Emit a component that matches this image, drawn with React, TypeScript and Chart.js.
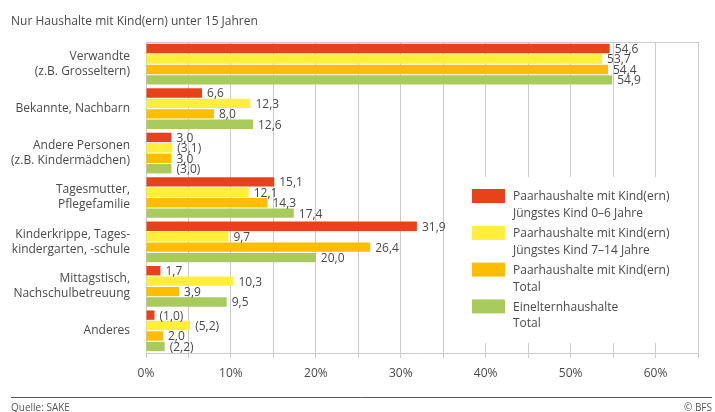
import React, { useEffect, useRef } from 'react';
import { Chart, registerables } from 'chart.js';

Chart.register(...registerables);

const categories: string[][] = [
  ['Verwandte', '(z.B. Grosseltern)'],
  ['Bekannte, Nachbarn'],
  ['Andere Personen', '(z.B. Kindermädchen)'],
  ['Tagesmutter,', 'Pflegefamilie'],
  ['Kinderkrippe, Tages-', 'kindergarten, -schule'],
  ['Mittagstisch,', 'Nachschulbetreuung'],
  ['Anderes'],
];

const seriesNames: string[][] = [
  ['Paarhaushalte mit Kind(ern)', 'Jüngstes Kind 0–6 Jahre'],
  ['Paarhaushalte mit Kind(ern)', 'Jüngstes Kind 7–14 Jahre'],
  ['Paarhaushalte mit Kind(ern)', 'Total'],
  ['Einelternhaushalte', 'Total'],
];

const paar0bis6 = [54.6, 6.6, 3.0, 15.1, 31.9, 1.7, 1.0];
const paar7bis14 = [53.7, 12.3, 3.1, 12.1, 9.7, 10.3, 5.2];
const paarTotal = [54.4, 8.0, 3.0, 14.3, 26.4, 3.9, 2.0];
const einElternTotal = [54.9, 12.6, 3.0, 17.4, 20.0, 9.5, 2.2];

// values shown in parentheses (low reliability)
const paar0bis6Unsicher = [false, false, false, false, false, false, true];
const paar7bis14Unsicher = [false, false, true, false, false, false, true];
const paarTotalUnsicher = [false, false, false, false, false, false, false];
const einElternUnsicher = [false, false, true, false, false, false, true];

const xTickLabels = [0, 10, 20, 30, 40, 50, 60];

const colors = ['#E8421B', '#FFEE3A', '#FDBD00', '#A9CB5D'];
const FONT = '"Open Sans", "Noto Sans", sans-serif';
const TEXT = '#4a4a4a';
const GRID = '#cccccc';

export default function App() {
  const ref = useRef<HTMLCanvasElement | null>(null);

  useEffect(() => {
    document.body.style.margin = '0';
    const canvas = ref.current;
    if (!canvas) return;

    const values = [paar0bis6, paar7bis14, paarTotal, einElternTotal];
    const unsure = [paar0bis6Unsicher, paar7bis14Unsicher, paarTotalUnsicher, einElternUnsicher];

    const labelPlugin = {
      id: 'valueLabels',
      afterDatasetsDraw(chart: any) {
        const ctx = chart.ctx;
        ctx.save();
        ctx.font = `12px ${FONT}`;
        ctx.fillStyle = TEXT;
        ctx.textBaseline = 'middle';
        ctx.textAlign = 'left';
        for (let d = chart.data.datasets.length - 1; d >= 0; d--) {
          const meta = chart.getDatasetMeta(d);
          meta.data.forEach((el: any, i: number) => {
            const v = values[d][i];
            let s = v.toFixed(1).replace('.', ',');
            if (unsure[d][i]) s = '(' + s + ')';
            ctx.fillText(s, el.x + 5, el.y + 1);
          });
        }
        ctx.restore();
      },
    };

    const decoPlugin = {
      id: 'deco',
      beforeDraw(chart: any) {
        const ctx = chart.ctx;
        ctx.save();
        ctx.fillStyle = '#ffffff';
        ctx.fillRect(0, 0, chart.width, chart.height);
        ctx.restore();
      },
      afterDraw(chart: any) {
        const ctx = chart.ctx;
        const a = chart.chartArea;
        ctx.save();
        // top frame line
        ctx.strokeStyle = GRID;
        ctx.lineWidth = 1;
        ctx.beginPath();
        ctx.moveTo(a.left, Math.round(a.top) + 0.5);
        ctx.lineTo(a.right, Math.round(a.top) + 0.5);
        ctx.stroke();

        // title
        ctx.fillStyle = TEXT;
        ctx.font = `12px ${FONT}`;
        ctx.textBaseline = 'middle';
        ctx.textAlign = 'left';
        ctx.fillText('Nur Haushalte mit Kind(ern) unter 15 Jahren', 11, 22);

        // footer line
        ctx.strokeStyle = '#555555';
        ctx.beginPath();
        ctx.moveTo(11, 397.5);
        ctx.lineTo(712, 397.5);
        ctx.stroke();
        ctx.font = `10px ${FONT}`;
        ctx.fillStyle = '#555555';
        ctx.fillText('Quelle: SAKE', 11, 408);
        ctx.textAlign = 'right';
        ctx.fillText('© BFS', 712, 408);

        // legend
        ctx.fillStyle = '#ffffff';
        ctx.fillRect(466, 177, 230, 166);
        ctx.font = `12px ${FONT}`;
        ctx.textAlign = 'left';
        chart.data.datasets.forEach((ds: any, i: number) => {
          const y = 189 + i * 36.8;
          ctx.fillStyle = ds.backgroundColor;
          ctx.fillRect(472, y, 33, 14);
          ctx.fillStyle = TEXT;
          seriesNames[i].forEach((line, j) => {
            ctx.fillText(line, 513, y + 8 + j * 16.5);
          });
        });
        ctx.restore();
      },
    };

    const chart = new Chart(canvas, {
      type: 'bar',
      data: {
        labels: categories,
        datasets: values.map((vals, i) => ({
          label: seriesNames[i].join(' '),
          data: vals,
          backgroundColor: colors[i],
          borderWidth: 0,
          categoryPercentage: 0.94,
          barPercentage: 0.9,
        })),
      },
      options: {
        indexAxis: 'y',
        responsive: false,
        animation: false,
        devicePixelRatio: 1,
        layout: { padding: { top: 42, right: 17, bottom: 0, left: 0 } },
        plugins: {
          legend: { display: false },
          title: { display: false },
          tooltip: { enabled: false },
        },
        scales: {
          x: {
            type: 'linear',
            min: 0,
            max: 65,
            position: 'bottom',
            grid: { color: GRID, lineWidth: 1, tickLength: 5, drawTicks: true },
            border: { display: true, color: GRID },
            afterFit(scale: any) {
              scale.height = 59;
            },
            afterBuildTicks(scale: any) {
              const t: any[] = [];
              for (let v = 0; v <= 65; v += 5) t.push({ value: v });
              scale.ticks = t;
            },
            ticks: {
              autoSkip: false,
              maxRotation: 0,
              padding: 8,
              color: TEXT,
              font: { family: FONT, size: 12 },
              callback: (v: any) => (xTickLabels.includes(Number(v)) ? v + '%' : ''),
            },
          },
          y: {
            grid: { display: false },
            border: { display: false },
            afterFit(scale: any) {
              scale.width = 146;
            },
            ticks: {
              padding: 8,
              color: TEXT,
              font: { family: FONT, size: 12, lineHeight: 1.25 },
            },
          },
        },
      },
      plugins: [labelPlugin, decoPlugin],
    } as any);

    return () => chart.destroy();
  }, []);

  return (
    <div style={{ width: 715, height: 412 }}>
      <canvas ref={ref} width={715} height={412} style={{ display: 'block' }} />
    </div>
  );
}
